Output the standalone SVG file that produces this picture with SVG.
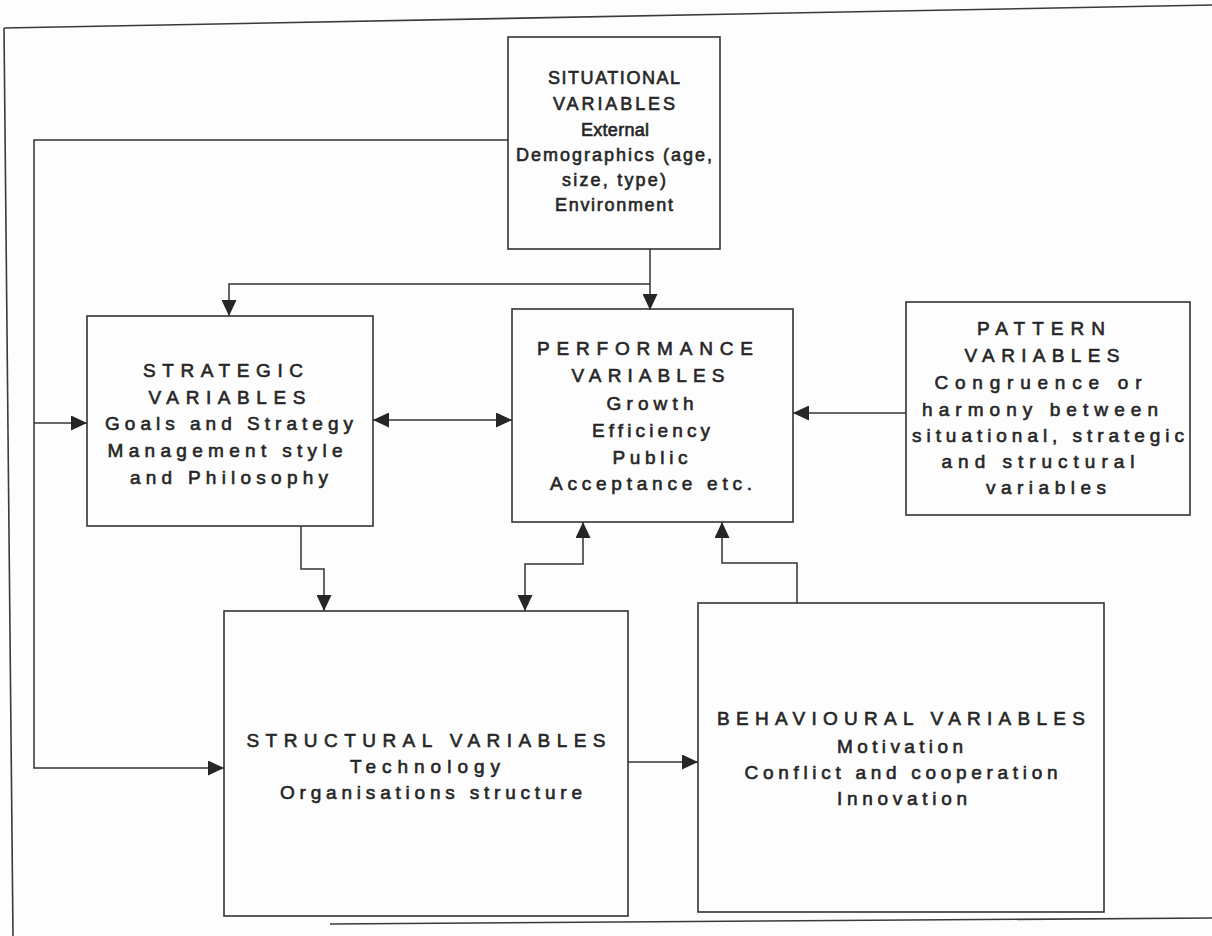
<svg xmlns="http://www.w3.org/2000/svg" width="1212" height="936" viewBox="0 0 1212 936">
  <defs>
    <marker id="arrow" viewBox="0 0 16 15" refX="16" refY="7.5" markerWidth="16" markerHeight="15" markerUnits="userSpaceOnUse" orient="auto-start-reverse">
      <path d="M0,0 L16,7.5 L0,15 Z" fill="#262626"/>
    </marker>
    <style>
      .frame { fill: none; stroke: #3a3a3a; stroke-width: 1.6; }
      .box { fill: none; stroke: #333; stroke-width: 1.6; }
      .conn { fill: none; stroke: #333; stroke-width: 1.5; }
      .arrow { marker-end: url(#arrow); }
      .both { marker-start: url(#arrow); marker-end: url(#arrow); }
      text { font-family: "Liberation Sans", Arial, sans-serif; font-size: 19px; fill: #262626; stroke: #262626; stroke-width: 0.6; text-anchor: middle; }
      .small { font-size: 18px; }
    </style>
  </defs>

  <rect x="0" y="0" width="1212" height="936" fill="#fdfdfd"/>

  <!-- page frame -->
  <g id="frame">
    <line class="frame" x1="4" y1="28" x2="1212" y2="5"/>
    <line class="frame" x1="4" y1="28" x2="13" y2="936"/>
    <line class="frame" x1="330" y1="924" x2="1212" y2="918"/>
  </g>

  <g id="connectors">
    <!-- situational to strategic and structural -->
    <path class="conn arrow" d="M508,140 H34 V768 H224"/>
    <path class="conn arrow" d="M34,423 H87"/>
    <!-- situational to performance and strategic -->
    <path class="conn arrow" d="M650,249 V310"/>
    <path class="conn arrow" d="M650,284 H229 V316"/>
    <!-- strategic <-> performance -->
    <path class="conn both" d="M373,420 H512"/>
    <!-- pattern to performance -->
    <path class="conn arrow" d="M906,413 H793"/>
    <!-- strategic to structural -->
    <path class="conn arrow" d="M301,526 V569 H324 V611"/>
    <!-- performance <-> structural -->
    <path class="conn both" d="M583,522 V564 H525 V611"/>
    <!-- behavioural to performance -->
    <path class="conn arrow" d="M797,603 V563 H722 V522"/>
    <!-- structural to behavioural -->
    <path class="conn arrow" d="M628,762 H698"/>
  </g>

  <g id="situational">
    <rect class="box" x="508" y="37" width="212" height="212"/>
    <text class="small" x="614" y="84" textLength="132" lengthAdjust="spacing">SITUATIONAL</text>
    <text class="small" x="614" y="110" textLength="122" lengthAdjust="spacing">VARIABLES</text>
    <text class="small" x="615" y="136" textLength="68" lengthAdjust="spacing">External</text>
    <text class="small" x="614" y="161" textLength="196" lengthAdjust="spacing">Demographics (age,</text>
    <text class="small" x="614" y="186" textLength="104" lengthAdjust="spacing">size, type)</text>
    <text class="small" x="614" y="211" textLength="118" lengthAdjust="spacing">Environment</text>
  </g>

  <g id="strategic">
    <rect class="box" x="87" y="316" width="286" height="210"/>
    <text x="223" y="377" textLength="160" lengthAdjust="spacing">STRATEGIC</text>
    <text x="227" y="404" textLength="157" lengthAdjust="spacing">VARIABLES</text>
    <text x="229" y="430" textLength="248" lengthAdjust="spacing">Goals and Strategy</text>
    <text x="225" y="457" textLength="235" lengthAdjust="spacing">Management style</text>
    <text x="229" y="484" textLength="198" lengthAdjust="spacing">and Philosophy</text>
  </g>

  <g id="performance">
    <rect class="box" x="512" y="309" width="281" height="213"/>
    <text x="645" y="355" textLength="216" lengthAdjust="spacing">PERFORMANCE</text>
    <text x="648" y="382" textLength="153" lengthAdjust="spacing">VARIABLES</text>
    <text x="650" y="410" textLength="87" lengthAdjust="spacing">Growth</text>
    <text x="651" y="437" textLength="118" lengthAdjust="spacing">Efficiency</text>
    <text x="650" y="464" textLength="75" lengthAdjust="spacing">Public</text>
    <text x="651" y="490" textLength="202" lengthAdjust="spacing">Acceptance etc.</text>
  </g>

  <g id="pattern">
    <rect class="box" x="906" y="302" width="284" height="213"/>
    <text x="1041" y="335" textLength="128" lengthAdjust="spacing">PATTERN</text>
    <text x="1042" y="362" textLength="155" lengthAdjust="spacing">VARIABLES</text>
    <text x="1038" y="389" textLength="207" lengthAdjust="spacing">Congruence or</text>
    <text x="1040" y="416" textLength="236" lengthAdjust="spacing">harmony between</text>
    <text x="1048" y="442" textLength="272" lengthAdjust="spacing">situational, strategic</text>
    <text x="1038" y="468" textLength="193" lengthAdjust="spacing">and structural</text>
    <text x="1046" y="494" textLength="120" lengthAdjust="spacing">variables</text>
  </g>

  <g id="structural">
    <rect class="box" x="224" y="611" width="404" height="305"/>
    <text x="426" y="747" textLength="359" lengthAdjust="spacing">STRUCTURAL VARIABLES</text>
    <text x="425" y="773" textLength="150" lengthAdjust="spacing">Technology</text>
    <text x="431" y="799" textLength="302" lengthAdjust="spacing">Organisations structure</text>
  </g>

  <g id="behavioural">
    <rect class="box" x="698" y="603" width="406" height="309"/>
    <text x="901" y="725" textLength="368" lengthAdjust="spacing">BEHAVIOURAL VARIABLES</text>
    <text x="900" y="753" textLength="126" lengthAdjust="spacing">Motivation</text>
    <text x="901" y="779" textLength="313" lengthAdjust="spacing">Conflict and cooperation</text>
    <text x="902" y="805" textLength="130" lengthAdjust="spacing">Innovation</text>
  </g>
</svg>
